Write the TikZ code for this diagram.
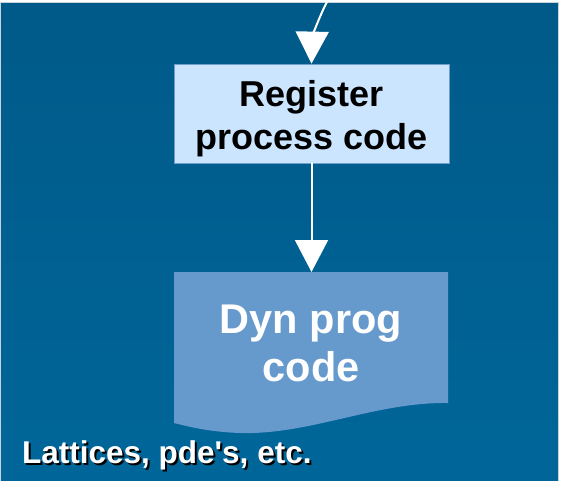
\documentclass[tikz,border=0pt]{standalone}
\usepackage{fontspec}
\setmainfont{Liberation Sans}[Ligatures=TeXOff]
\usetikzlibrary{arrows.meta}
\definecolor{bgtop}{HTML}{005A89}
\definecolor{bgbot}{HTML}{006699}
\definecolor{regfill}{HTML}{CCE5FF}
\definecolor{regline}{HTML}{6F9FCC}
\definecolor{dynfill}{HTML}{6699CC}
\definecolor{frameline}{HTML}{C8D4DC}
\tikzset{
  arr/.style={draw=white, line width=2pt, -{Triangle[length=32pt,width=33pt]}},
  regbox/.style={draw=regline, line width=0.8pt, fill=regfill, minimum width=275pt, minimum height=99pt, inner sep=0pt},
  regtext/.style={align=center, font=\fontsize{36}{43}\selectfont\bfseries, text=black, inner sep=0pt},
  dyntext/.style={align=center, font=\fontsize{41.5}{48}\selectfont\bfseries, text=white, inner sep=0pt},
  lattext/.style={anchor=base west, inner sep=0pt, font=\fontsize{31.5}{36}\selectfont\bfseries},
}
\begin{document}
\begin{tikzpicture}[x=1pt,y=1pt]
\useasboundingbox (0,0) rectangle (561,480);
\fill[white] (0,0) rectangle (561,480);
\shade[top color=bgtop, bottom color=bgbot] (0.5,-1) rectangle (558,477.5);
\draw[frameline, line width=1pt] (0.5,-1) -- (0.5,477.5) -- (558,477.5) -- (558,-1);
% register box
\node[regbox] (reg) at (311.5,366.5) {};
\node[regtext] (regt) at (311.5,361.5) {Register\\process code};
% document shape
\path[fill=dynfill] (174,208) -- (448,208) -- (448,77)
  .. controls (375,78) and (310,45) .. (240,47)
  .. controls (210,48) and (190,53) .. (174,57) -- cycle;
\coordinate (dyntop) at (311.5,208);
\node[dyntext] (dyn) at (311,137) {Dyn prog\\code};
% arrows
\coordinate (topc) at (329,482);
\draw[arr] (topc) .. controls (318,462) and (312,440) .. (reg.north);
\draw[arr] (reg.south) -- (dyntop);
% label with shadow
\node[lattext, text=black] (latshadow) at (24,15) {Lattices, pde's, etc.};
\node[lattext, text=white] (lat) at (22,17) {Lattices, pde's, etc.};
\end{tikzpicture}
\end{document}
